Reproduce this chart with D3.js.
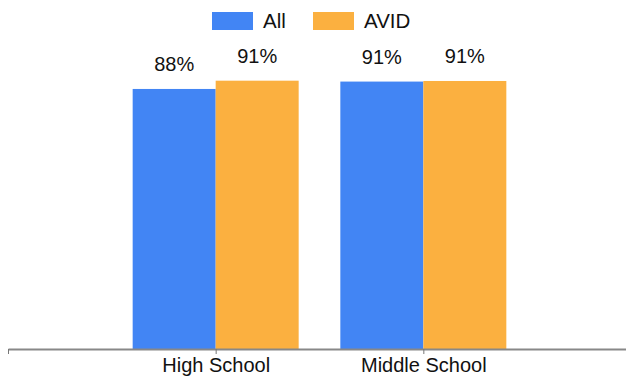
<!DOCTYPE html>
<html>
<head>
<meta charset="utf-8">
<script src="https://cdn.jsdelivr.net/npm/d3@7"></script>
<style>
  body { margin: 0; background: #fff; }
  svg { display: block; font-family: Arial, "Liberation Sans", sans-serif; }
</style>
</head>
<body>
<svg id="chart" width="626" height="379"></svg>
<script>
// data
const categories = ["High School", "Middle School"];
const seriesNames = ["All", "AVID"];
const allValues = [88.0, 90.5];
const avidValues = [90.8, 90.7];
const colors = ["#4285f4", "#fbb040"];

const svg = d3.select("#chart");
const baseY = 349;

// categories sit at positions 1, 2 on a 0..3 axis
const xScale = d3.scaleLinear().domain([0, 3]).range([8, 631]);
const yScale = d3.scaleLinear().domain([0, 100]).range([baseY, 53.5]);
const sub = d3.scaleBand().domain(seriesNames).range([-83, 83]).padding(0);

const rows = categories.map((c, i) => ({ cat: c, pos: i + 1, vals: [allValues[i], avidValues[i]] }));

const groups = svg.selectAll(".grp")
    .data(rows)
    .enter()
    .append("g")
    .attr("class", "grp")
    .attr("transform", d => `translate(${xScale(d.pos)},0)`);

groups.selectAll("rect")
    .data(d => d.vals.map((v, j) => ({ name: seriesNames[j], v: v, color: colors[j] })))
    .enter()
    .append("rect")
    .attr("x", d => sub(d.name))
    .attr("y", d => yScale(d.v))
    .attr("width", sub.bandwidth())
    .attr("height", d => baseY - yScale(d.v))
    .attr("fill", d => d.color);

groups.selectAll("text.val")
    .data(d => d.vals.map((v, j) => ({ name: seriesNames[j], v: v })))
    .enter()
    .append("text")
    .attr("class", "val")
    .attr("x", d => sub(d.name) + sub.bandwidth() / 2)
    .attr("y", d => yScale(d.v) - 18)
    .attr("text-anchor", "middle")
    .style("font-size", "20px")
    .attr("fill", "#111")
    .text(d => Math.round(d.v) + "%");

// x axis
const axis = svg.append("g")
    .attr("transform", `translate(0,${baseY})`)
    .call(d3.axisBottom(xScale)
        .tickValues([0, 1, 2, 3])
        .tickSize(5)
        .tickSizeOuter(0)
        .tickFormat(d => (d >= 1 && d <= categories.length) ? categories[d - 1] : ""));

axis.select(".domain").attr("stroke", "#888").attr("stroke-width", 2);
axis.selectAll(".tick line").attr("stroke", "#777").attr("stroke-width", 1);
axis.selectAll(".tick text")
    .attr("y", 23)
    .attr("dy", null)
    .style("font-size", "20px")
    .style("font-family", "Arial, 'Liberation Sans', sans-serif")
    .attr("fill", "#111");

// legend
const legendItems = seriesNames.map((n, i) => ({ name: n, color: colors[i] }));
const legendX = [212, 313];
const legend = svg.append("g").attr("class", "legend");
const li = legend.selectAll("g")
    .data(legendItems)
    .enter()
    .append("g")
    .attr("transform", (d, i) => `translate(${legendX[i]},12)`);
li.append("rect")
    .attr("width", 41)
    .attr("height", 18)
    .attr("fill", d => d.color);
li.append("text")
    .attr("x", 51)
    .attr("y", 15.5)
    .style("font-size", "20.5px")
    .attr("fill", "#111")
    .text(d => d.name);
</script>
</body>
</html>
